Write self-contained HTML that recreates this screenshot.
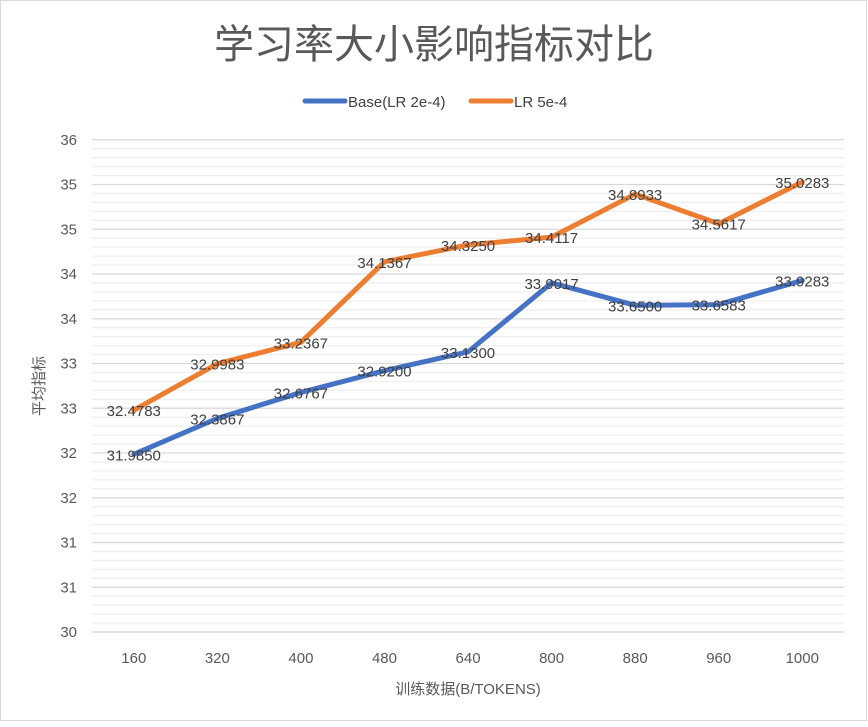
<!DOCTYPE html>
<html><head><meta charset="utf-8"><style>
html,body{margin:0;padding:0;background:#fff}
svg text{font-family:"Liberation Sans","Noto Sans CJK SC",sans-serif}
</style></head><body>
<svg width="868" height="722" xmlns="http://www.w3.org/2000/svg">
<rect x="0.5" y="0.5" width="866" height="720" fill="#fff" stroke="#d9d9d9"/>
<text x="434" y="58" text-anchor="middle" font-size="40" fill="#595959">学习率大小影响指标对比</text>
<line x1="305" y1="101" x2="345" y2="101" stroke="#4472c4" stroke-width="5" stroke-linecap="round"/>
<text x="348" y="107" font-size="15" fill="#404040">Base(LR 2e-4)</text>
<line x1="471" y1="101" x2="511" y2="101" stroke="#ed7d31" stroke-width="5" stroke-linecap="round"/>
<text x="514" y="107" font-size="15" fill="#404040">LR 5e-4</text>
<g id="grid"></g>
<g id="pl"></g>
<text transform="translate(44,386) rotate(-90)" text-anchor="middle" font-size="15" fill="#595959">平均指标</text>
<text x="468" y="694" text-anchor="middle" font-size="15" fill="#595959">训练数据(B/TOKENS)</text>
<script>
var ns="http://www.w3.org/2000/svg";
function el(t,a,p,txt){var e=document.createElementNS(ns,t);for(var k in a)e.setAttribute(k,a[k]);if(txt!=null)e.textContent=txt;(p||document.querySelector('svg')).appendChild(e);return e;}
var g=document.getElementById('grid'),pl=document.getElementById('pl');
function Y(v){return 632-(v-30)*89.5;}
for(var i=0;i<=55;i++){var v=30+i*0.1;var y=Y(v);if(i%5==0)continue;el('line',{x1:92,x2:844,y1:y,y2:y,stroke:'#efefef','stroke-width':1.3},g);}
var yl=["30","31","31","32","32","33","33","34","34","35","35","36"];
for(var i=0;i<=11;i++){var y=Y(30+i*0.5);el('line',{x1:92,x2:844,y1:y,y2:y,stroke:i==0?'#d0d0d0':'#d9d9d9','stroke-width':1.3},g);el('text',{x:77,y:y+5,'text-anchor':'end','font-size':15,fill:'#595959'},g,yl[i]);}
var cats=["160","320","400","480","640","800","880","960","1000"];
function X(i){return 92+41.8+i*83.56;}
cats.forEach(function(c,i){el('text',{x:X(i),y:663,'text-anchor':'middle','font-size':15,fill:'#595959'},g,c);});
var o=[32.4783,32.9983,33.2367,34.1367,34.325,34.4117,34.8933,34.5617,35.0283];
var b=[31.985,32.3867,32.6767,32.92,33.13,33.9017,33.65,33.6583,33.9283];
function line(d,c){el('polyline',{points:d.map(function(v,i){return X(i)+','+Y(v)}).join(' '),fill:'none',stroke:c,'stroke-width':5,'stroke-linejoin':'round','stroke-linecap':'round'},pl);}
line(b,'#4472c4');line(o,'#ed7d31');
function lab(d){d.forEach(function(v,i){el('text',{x:X(i),y:Y(v)+6,'text-anchor':'middle','font-size':15,fill:'#404040'},pl,v.toFixed(4));});}
lab(b);lab(o);
</script>
</svg>
</body></html>
